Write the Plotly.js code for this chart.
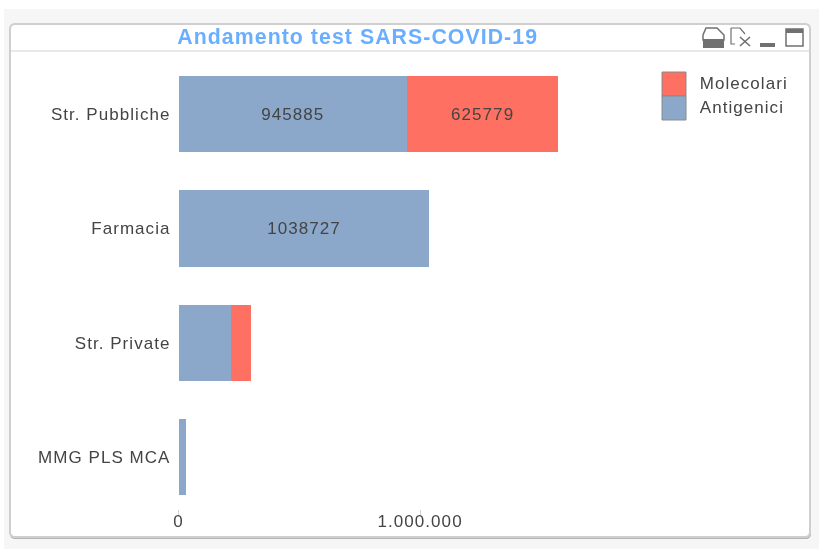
<!DOCTYPE html>
<html><head><meta charset="utf-8">
<script src="https://cdn.plot.ly/plotly-3.0.1.min.js"></script>
<style>html,body{margin:0;padding:0;background:#fff}#c{width:819px;height:550px;filter:blur(0.4px)}#c svg text{letter-spacing:1.05px}</style>
</head><body><div id="c"></div>
<script>
const categories = ["Str. Pubbliche","Farmacia","Str. Private","MMG PLS MCA"];
const antigenici = [945885,1038727,217000,33000];
const molecolari = [625779,0,85000,0];
const antigeniciLabels = ["945885","1038727","",""];
const molecolariLabels = ["625779","","",""];
const tickValues = [0,1000000];
const tickLabels = ["0","1.000.000"];
const W=819,H=550;
const X=v=>v/W, Y=v=>1-v/H;
const FONT='"Liberation Sans", Arial, sans-serif';
const BLUE='#8ba8cb', RED='#fe7061', TXT='#444444';
function P(points,close){return points.map((p,i)=>(i?'L':'M')+X(p[0])+','+Y(p[1])).join(' ')+(close?' Z':'');}
function rect(x0,y0,x1,y1,fill,line,w,layer){return {type:'rect',xref:'paper',yref:'paper',x0:X(x0),x1:X(x1),y0:Y(y0),y1:Y(y1),fillcolor:fill,line:{color:line||fill,width:w||0},layer:layer||'below'};}
function path(points,fill,line,w,close){return {type:'path',xref:'paper',yref:'paper',path:P(points,close),fillcolor:fill||'rgba(0,0,0,0)',line:{color:line||'rgba(0,0,0,0)',width:w||0},layer:'below'};}
function rr(x0,y0,x1,y1,r){return [[x0+r,y0],[x1-r,y0],[x1-r*.3,y0+r*.3],[x1,y0+r],[x1,y1-r],[x1-r*.3,y1-r*.3],[x1-r,y1],[x0+r,y1],[x0+r*.3,y1-r*.3],[x0,y1-r],[x0,y0+r],[x0+r*.3,y0+r*.3]];}
const ink='#707070';
const shapes=[
 rect(4,9,819,549,'#f6f6f6'),
 path(rr(10,26,811,539,4),'#b4b4b4',null,0,true),
 path(rr(10,24,810,537,4),'#ffffff','#cfcfcf',2,true),
 rect(10,50.5,810,51.5,'#d4d4d4'),
 // window icons
 path([[703,40],[703,35],[706,28],[717,28],[724,35],[724,40]],'#ffffff',ink,1.5,true),
 rect(703,39,724,48,ink),
 path([[731,28],[731,44],[735,44]],null,ink,1.2),
 path([[731,28],[740,28],[745,34]],null,ink,1.2),
 path([[740,37],[750,46]],null,ink,1.6),
 path([[750,37],[740,46]],null,ink,1.6),
 rect(760,43,775,47,ink),
 rect(786,29,803,46,'#ffffff',ink,1.5),
 rect(786,29,803,33,ink),
 // legend swatches
 rect(662,72,686,96,RED,'#8a8a8a',1),
 rect(662,96,686,120,BLUE,'#8a8a8a',1)
];
const annotations=[
 {text:'Andamento test SARS-COVID-19',xref:'paper',yref:'paper',x:X(357.5),y:Y(37),showarrow:false,xanchor:'center',yanchor:'middle',font:{family:FONT,size:21.3,color:'#6aaeff',weight:700}},
 {text:'Molecolari',xref:'paper',yref:'paper',x:X(702.5),y:Y(84),showarrow:false,xanchor:'left',yanchor:'middle',font:{family:FONT,size:17,color:TXT}},
 {text:'Antigenici',xref:'paper',yref:'paper',x:X(702.5),y:Y(108),showarrow:false,xanchor:'left',yanchor:'middle',font:{family:FONT,size:17,color:TXT}}
];
const common={type:'bar',orientation:'h',y:categories,textposition:'inside',insidetextanchor:'middle',constraintext:'none',textangle:0,insidetextfont:{family:FONT,size:17,color:TXT},hoverinfo:'x+y+name',cliponaxis:false};
const data=[
 Object.assign({},common,{name:'Antigenici',x:antigenici,text:antigeniciLabels,marker:{color:BLUE,line:{width:0}}}),
 Object.assign({},common,{name:'Molecolari',x:molecolari,text:molecolariLabels,marker:{color:RED,line:{width:0}}})
];
const xl=178.5,xr=650,yt=57,yb=509;
const layout={
 width:W,height:H,margin:{l:0,r:0,t:0,b:0,pad:0},paper_bgcolor:'#ffffff',plot_bgcolor:'rgba(0,0,0,0)',
 showlegend:false,barmode:'stack',bargap:0.336,shapes,annotations,
 xaxis:{domain:[X(xl),X(xr)],range:[0,(xr-xl)/241.6*1e6],tickmode:'array',tickvals:tickValues,ticktext:tickLabels,ticks:'outside',ticklen:6,tickcolor:'#d4d4d4',tickwidth:1,showgrid:false,zeroline:false,showline:false,ticklabelstandoff:-9,tickfont:{family:FONT,size:17,color:TXT}},
 yaxis:{domain:[Y(yb),Y(yt)],range:[3.45,-0.498],type:'category',ticks:'',showgrid:false,zeroline:false,showline:false,ticklabelstandoff:7,tickfont:{family:FONT,size:17,color:TXT}}
};
Plotly.newPlot('c',data,layout,{displayModeBar:false,responsive:false});
</script></body></html>
